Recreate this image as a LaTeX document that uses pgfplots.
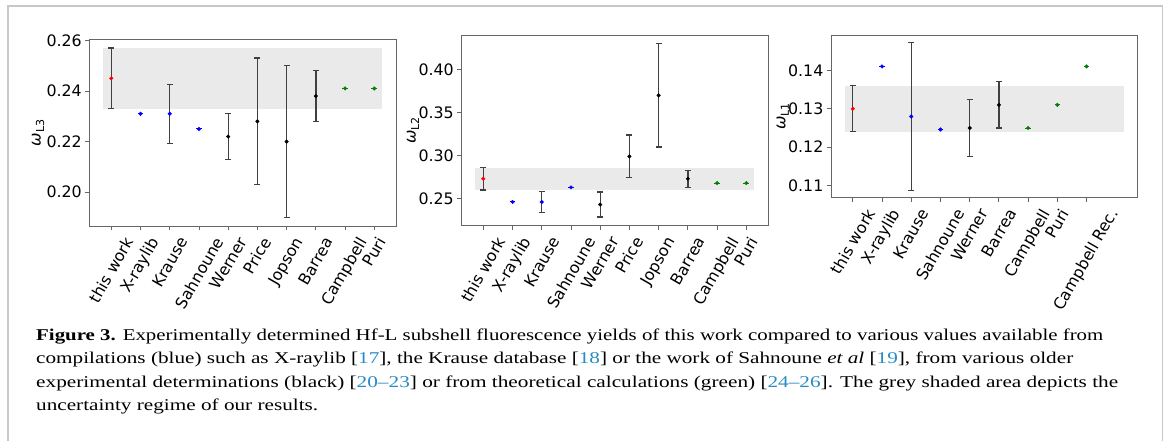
\documentclass[border=0pt]{standalone}
\usepackage{pgfplots}
\pgfplotsset{compat=1.18}
\usepackage{graphicx}
\usepackage{fontspec}
\setmainfont{DejaVu Sans}
\newfontfamily\capfont{Liberation Serif}
\definecolor{mplgreen}{rgb}{0,0.5,0}
\definecolor{shade}{RGB}{234,234,234}
\definecolor{citeblue}{RGB}{40,140,195}
\definecolor{framegray}{RGB}{200,200,200}
\newcommand{\cit}[1]{\textcolor{citeblue}{#1}}
\newcommand{\rl}[1]{\rotatebox{60}{#1}}
\pgfplotsset{
  panel/.style={
    scale only axis, width=306.6pt,
    xmin=-0.747, xmax=9.747,
    axis line style={black!60, line width=0.9pt},
    every tick/.style={black!60, line width=0.9pt},
    tick align=outside, major tick length=4.5pt,
    xtick pos=lower, ytick pos=left,
    ticklabel style={font=\fontsize{15.8}{18}\selectfont},
    xticklabel style={anchor=north, inner sep=0pt, yshift=-5pt},
    yticklabel style={inner sep=0pt, xshift=-3pt},
    label style={font=\fontsize{16}{18}\selectfont},
    clip=false,
  },
  ebar/.style={only marks, mark=*, mark size=1.8pt, mark options={draw=#1, fill=#1},
    error bars/.cd, y dir=both, y explicit,
    error bar style={line width=1.3pt, black!75},
    error mark options={black!75, mark size=3pt, line width=1.2pt, rotate=90}},
  nbar/.style={only marks, mark=*, mark size=1.8pt, mark options={draw=#1, fill=#1}},
  cap/.style={only marks, mark=-, mark size=2.8pt, mark options={draw=#1, line width=1pt}},
  band/.style={fill=shade, draw=none},
}
\newcommand{\wl}[1]{{\itshape ω}\raisebox{-0.4ex}{\fontsize{11}{11}\selectfont #1}}
\begin{document}
\begin{tikzpicture}
\path[use as bounding box] (0pt,0pt) rectangle (1167pt,441pt);
\draw[framegray, line width=1.8pt] (8pt,-2pt) -- (8pt,435pt) -- (1162.5pt,435pt) -- (1162.5pt,-2pt);

% ---------- panel L3 ----------
\begin{axis}[panel, at={(89.5pt,215pt)}, anchor=south west, height=186.5pt,
  ymin=0.18665, ymax=0.26035,
  ytick={0.20,0.22,0.24,0.26}, yticklabels={0.20,0.22,0.24,0.26},
  xtick={0,...,9},
  xticklabels={\rl{this work},\rl{X-raylib},\rl{Krause},\rl{Sahnoune},\rl{Werner},\rl{Price},\rl{Jopson},\rl{Barrea},\rl{Campbell},\rl{Puri}},
  ylabel={\wl{L3}}, ylabel style={at={(axis description cs:-0.168,0.5)}, anchor=center},
]
\addplot[band] coordinates {(-0.27,0.233) (9.27,0.233) (9.27,0.257) (-0.27,0.257)} -- cycle;
\addplot[ebar=red] coordinates {(0,0.245) +- (0,0.012)};
\addplot[ebar=blue] coordinates {(2,0.231) +- (0,0.0116)};
\addplot[cap=blue] coordinates {(1,0.231) (3,0.225)};
\addplot[nbar=blue] coordinates {(1,0.231) (3,0.225)};
\addplot[ebar=black] coordinates {(4,0.222) +- (0,0.009) (5,0.228) +- (0,0.025) (6,0.220) +- (0,0.030) (7,0.238) +- (0,0.010)};
\addplot[cap=mplgreen] coordinates {(8,0.241) (9,0.241)};
\addplot[nbar=mplgreen] coordinates {(8,0.241) (9,0.241)};
\end{axis}

% ---------- panel L2 ----------
\begin{axis}[panel, at={(461.5pt,215.3pt)}, anchor=south west, height=190.7pt,
  ymin=0.2184, ymax=0.4402,
  ytick={0.25,0.30,0.35,0.40}, yticklabels={0.25,0.30,0.35,0.40},
  xtick={0,...,9},
  xticklabels={\rl{this work},\rl{X-raylib},\rl{Krause},\rl{Sahnoune},\rl{Werner},\rl{Price},\rl{Jopson},\rl{Barrea},\rl{Campbell},\rl{Puri}},
  ylabel={\wl{L2}}, ylabel style={at={(axis description cs:-0.158,0.5)}, anchor=center},
]
\addplot[band] coordinates {(-0.27,0.260) (9.27,0.260) (9.27,0.286) (-0.27,0.286)} -- cycle;
\addplot[ebar=red] coordinates {(0,0.273) +- (0,0.013)};
\addplot[ebar=blue] coordinates {(2,0.246) +- (0,0.012)};
\addplot[cap=blue] coordinates {(1,0.246) (3,0.263)};
\addplot[nbar=blue] coordinates {(1,0.246) (3,0.263)};
\addplot[ebar=black] coordinates {(4,0.243) +- (0,0.0145) (5,0.299) +- (0,0.025) (6,0.370) +- (0,0.060) (7,0.273) +- (0,0.010)};
\addplot[cap=mplgreen] coordinates {(8,0.268) (9,0.268)};
\addplot[nbar=mplgreen] coordinates {(8,0.268) (9,0.268)};
\end{axis}

% ---------- panel L1 ----------
\begin{axis}[panel, at={(831pt,243.3pt)}, anchor=south west, height=162.7pt,
  ymin=0.10688, ymax=0.14918,
  ytick={0.11,0.12,0.13,0.14}, yticklabels={0.11,0.12,0.13,0.14},
  xtick={0,...,8},
  xticklabels={\rl{this work},\rl{X-raylib},\rl{Krause},\rl{Sahnoune},\rl{Werner},\rl{Barrea},\rl{Campbell},\rl{Puri},\rl{Campbell Rec.}},
  ylabel={\wl{L1}}, ylabel style={at={(axis description cs:-0.157,0.5)}, anchor=center},
]
\addplot[band] coordinates {(-0.27,0.124) (9.27,0.124) (9.27,0.136) (-0.27,0.136)} -- cycle;
\addplot[ebar=red] coordinates {(0,0.130) +- (0,0.006)};
\addplot[ebar=blue] coordinates {(2,0.128) +- (0,0.0192)};
\addplot[cap=blue] coordinates {(1,0.141) (3,0.1246)};
\addplot[nbar=blue] coordinates {(1,0.141) (3,0.1246)};
\addplot[ebar=black] coordinates {(4,0.125) +- (0,0.0075) (5,0.131) +- (0,0.006)};
\addplot[cap=mplgreen] coordinates {(6,0.125) (7,0.131) (8,0.141)};
\addplot[nbar=mplgreen] coordinates {(6,0.125) (7,0.131) (8,0.141)};
\end{axis}

% ---------- caption ----------
\begin{scope}[every node/.style={anchor=base west, inner sep=0pt}]
\node at (36pt,100.3pt) {\resizebox{1067pt}{\height}{\capfont\fontsize{16.5}{20}\selectfont \textbf{Figure 3.} Experimentally determined Hf-L subshell fluorescence yields of this work compared to various values available from}};
\node at (36pt,77pt) {\resizebox{1037pt}{\height}{\capfont\fontsize{16.5}{20}\selectfont compilations (blue) such as X-raylib [\cit{17}], the Krause database [\cit{18}] or the work of Sahnoune \textit{et al} [\cit{19}], from various older}};
\node at (36pt,53.7pt) {\resizebox{1082pt}{\height}{\capfont\fontsize{16.5}{20}\selectfont experimental determinations (black) [\cit{20–23}] or from theoretical calculations (green) [\cit{24–26}]. The grey shaded area depicts the}};
\node at (36pt,30.3pt) {\resizebox{282pt}{\height}{\capfont\fontsize{16.5}{20}\selectfont uncertainty regime of our results.}};
\end{scope}
\end{tikzpicture}
\end{document}
